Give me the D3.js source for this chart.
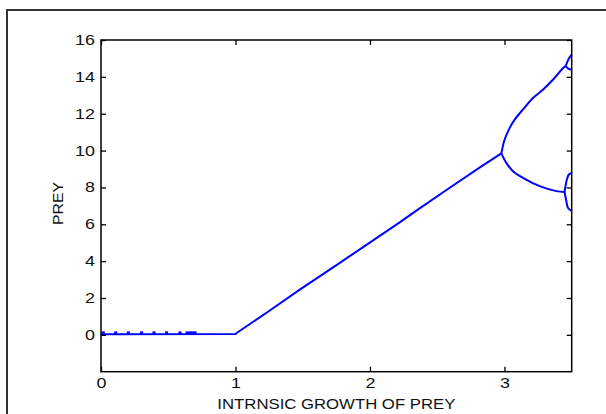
<!DOCTYPE html>
<html>
<head>
<meta charset="utf-8">
<script src="https://cdn.jsdelivr.net/npm/d3@7"></script>
<style>
  body { margin: 0; background: #fff; }
  svg { display: block; }
  .tick text { font-family: "Liberation Sans", Arial, sans-serif; font-size: 14px; fill: #111; }
  .title { font-family: "Liberation Sans", Arial, sans-serif; font-size: 14px; fill: #111; }
</style>
</head>
<body>
<div id="chart"></div>
<script>
// prey equilibrium before the bifurcation (growth rate vs prey)
const mainX = [0, 1.0, 1.008, 1.231, 1.478, 1.726, 1.993, 2.221, 2.345, 2.593, 2.84, 2.977];
const mainY = [0.03, 0.04, 0.1, 1.2, 2.45, 3.66, 4.98, 6.1, 6.74, 7.98, 9.2, 9.85];

// period-2 branches
const upperX = [2.977, 3.001, 3.039, 3.076, 3.137, 3.212, 3.286, 3.36, 3.435, 3.455];
const upperY = [9.85, 10.59, 11.23, 11.68, 12.22, 12.85, 13.3, 13.84, 14.47, 14.58];
const lowerX = [2.977, 3.014, 3.063, 3.137, 3.262, 3.386, 3.447];
const lowerY = [9.85, 9.33, 8.88, 8.52, 8.07, 7.8, 7.75];

// period-4 branches
const upperHiX = [3.455, 3.479, 3.5];
const upperHiY = [14.58, 15.0, 15.2];
const upperLoX = [3.455, 3.475, 3.5];
const upperLoY = [14.58, 14.45, 14.38];
const lowerHiX = [3.447, 3.464, 3.479, 3.5];
const lowerHiY = [7.75, 8.43, 8.7, 8.79];
const lowerLoX = [3.447, 3.46, 3.472, 3.5];
const lowerLoY = [7.75, 7.26, 6.9, 6.72];

// scattered transient points along zero
const dotX = [0.017, 0.109, 0.203, 0.302, 0.394, 0.488, 0.587, 0.64, 0.66, 0.68, 0.70];
const dotY = [0.08, 0.08, 0.08, 0.08, 0.08, 0.08, 0.08, 0.08, 0.08, 0.08, 0.08];

const xTicks = [0, 1, 2, 3];
const yTicks = [0, 2, 4, 6, 8, 10, 12, 14, 16];

const width = 606, height = 414;
const margin = {top: 40, right: 34.3, bottom: 42.3, left: 101};
const innerW = width - margin.left - margin.right;
const innerH = height - margin.top - margin.bottom;
const sx = 1.28; // horizontal stretch of the original lettering

const svg = d3.select("#chart").append("svg")
    .attr("width", width)
    .attr("height", height);

// outer figure frame (cut off on the right and bottom)
svg.append("rect")
    .attr("x", 7).attr("y", 10)
    .attr("width", 640).attr("height", 440)
    .attr("fill", "none")
    .attr("stroke", "#333")
    .attr("stroke-width", 2);

const g = svg.append("g")
    .attr("transform", "translate(" + margin.left + "," + margin.top + ")");

const x = d3.scaleLinear().domain([0, 3.5]).range([0, innerW]);
const y = d3.scaleLinear().domain([-2, 16]).range([innerH, 0]);

const zip = (xs, ys) => xs.map((v, i) => [v, ys[i]]);
const straight = d3.line().x(d => x(d[0])).y(d => y(d[1]));
const smooth = d3.line().x(d => x(d[0])).y(d => y(d[1])).curve(d3.curveCatmullRom.alpha(0.5));

g.append("clipPath").attr("id", "plotclip")
    .append("rect").attr("width", innerW + 1.5).attr("height", innerH);

const branches = [
    zip(upperX, upperY),
    zip(lowerX, lowerY),
    zip(upperHiX, upperHiY),
    zip(upperLoX, upperLoY),
    zip(lowerHiX, lowerHiY),
    zip(lowerLoX, lowerLoY)
];

const plot = g.append("g").attr("clip-path", "url(#plotclip)");

plot.append("path")
    .attr("d", straight(zip(mainX, mainY)))
    .attr("fill", "none")
    .attr("stroke", "#0000ff")
    .attr("stroke-width", 2)
    .attr("stroke-linejoin", "round");

plot.selectAll("path.branch")
    .data(branches)
    .enter().append("path")
    .attr("class", "branch")
    .attr("d", smooth)
    .attr("fill", "none")
    .attr("stroke", "#0000ff")
    .attr("stroke-width", 2)
    .attr("stroke-linejoin", "round");

plot.selectAll("rect.dot")
    .data(zip(dotX, dotY))
    .enter().append("rect")
    .attr("class", "dot")
    .attr("x", d => x(d[0]) - 1.5)
    .attr("y", d => y(d[1]) - 2)
    .attr("width", 3)
    .attr("height", 2.5)
    .attr("fill", "#0000ff");

// axes with inward ticks
const xAxis = d3.axisBottom(x).tickValues(xTicks).tickFormat(d3.format("d"))
    .tickSizeInner(-5).tickSizeOuter(0).tickPadding(6);
const xTop = d3.axisTop(x).tickValues(xTicks).tickFormat("")
    .tickSizeInner(-5).tickSizeOuter(0);
const yAxis = d3.axisLeft(y).tickValues(yTicks).tickFormat(d3.format("d"))
    .tickSizeInner(-5).tickSizeOuter(0).tickPadding(6);
const yRight = d3.axisRight(y).tickValues(yTicks).tickFormat("")
    .tickSizeInner(-5).tickSizeOuter(0);

const gx = g.append("g").attr("transform", "translate(0," + innerH + ")").call(xAxis);
g.append("g").call(xTop);
const gy = g.append("g").call(yAxis);
g.append("g").attr("transform", "translate(" + innerW + ",0)").call(yRight);

g.selectAll(".domain").remove();
g.selectAll(".tick line").attr("stroke", "#000").attr("stroke-width", 1.3);

gx.selectAll(".tick text").attr("transform", "scale(" + sx + ",1)");
gy.selectAll(".tick text")
    .attr("x", -6 / sx)
    .attr("transform", "scale(" + sx + ",1)");

// plot box
g.append("rect")
    .attr("width", innerW).attr("height", innerH)
    .attr("fill", "none")
    .attr("stroke", "#000")
    .attr("stroke-width", 1.5);

// axis titles
svg.append("text")
    .attr("class", "title")
    .attr("x", margin.left + innerW / 2)
    .attr("y", 409)
    .attr("text-anchor", "middle")
    .attr("textLength", 238)
    .attr("lengthAdjust", "spacingAndGlyphs")
    .text("INTRNSIC GROWTH OF PREY");

svg.append("text")
    .attr("class", "title")
    .attr("transform", "translate(63,203.5) rotate(-90)")
    .attr("text-anchor", "middle")
    .attr("textLength", 43)
    .attr("lengthAdjust", "spacingAndGlyphs")
    .text("PREY");
</script>
</body>
</html>
